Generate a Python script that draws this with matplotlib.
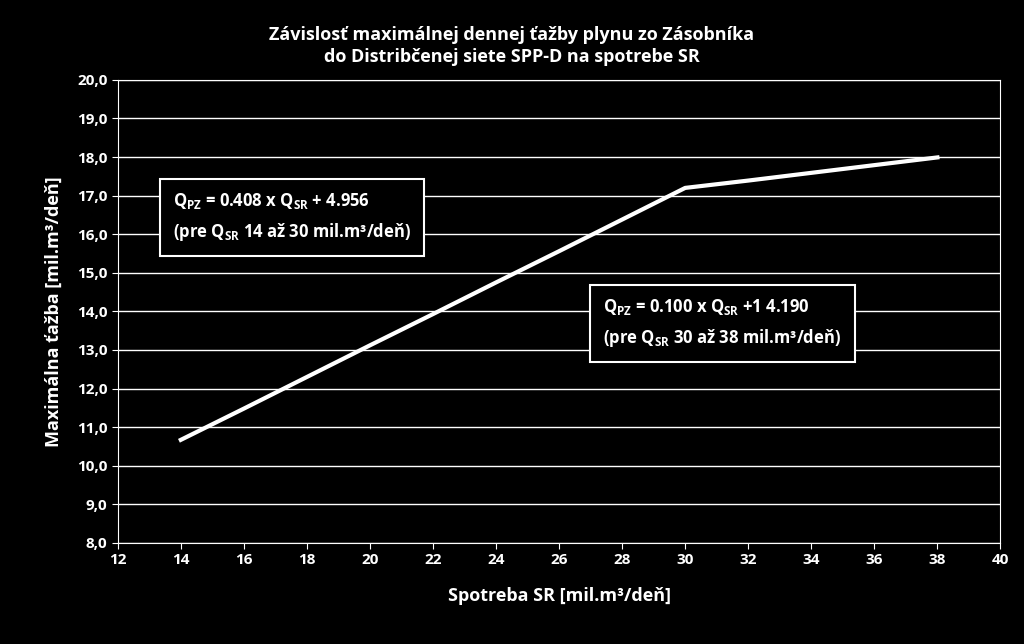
import matplotlib
matplotlib.use("Agg")
import matplotlib.pyplot as plt

x_vals = [14, 16, 18, 20, 22, 24, 26, 28, 30, 32, 34, 36, 38]
y_vals = [10.67, 11.48, 12.30, 13.12, 13.93, 14.75, 15.56, 16.38, 17.20, 17.39, 17.59, 17.79, 17.99]
x_ticks = list(range(12, 41, 2))
y_ticks = [8 + i for i in range(13)]

plt.rcParams["font.family"] = "Open Sans"
plt.rcParams["font.weight"] = "bold"
plt.rcParams["mathtext.fontset"] = "custom"
plt.rcParams["mathtext.rm"] = "Open Sans:bold"
fig = plt.figure(figsize=(10.24, 6.44), dpi=100, facecolor="black")
ax = fig.add_axes([0.115, 0.157, 0.862, 0.719], facecolor="black")
ax.plot(x_vals, y_vals, color="white", lw=3)
ax.set_xlim(12, 40)
ax.set_ylim(8, 20)
ax.set_xticks(x_ticks)
ax.set_yticks(y_ticks)
ax.set_yticklabels([f"{v:.1f}".replace(".", ",") for v in y_ticks])
ax.grid(axis="y", color="white", lw=1)
ax.tick_params(colors="white", labelsize=11, length=4)
for s in ax.spines.values():
    s.set_color("white")
ax.set_xlabel("Spotreba SR [mil.m³/deň]", color="white", fontsize=13, fontweight="bold", labelpad=14)
ax.set_ylabel("Maximálna ťažba [mil.m³/deň]", color="white", fontsize=13, fontweight="bold", labelpad=10)
fig.text(0.5, 0.96, "Závislosť maximálnej dennej ťažby plynu zo Zásobníka\ndo Distribčenej siete SPP-D na spotrebe SR",
         color="white", fontsize=13, fontweight="bold", ha="center", va="top", linespacing=1.3)
box = dict(boxstyle="square,pad=0.8", fc="black", ec="white", lw=1.5)
ax.text(13.75, 16.45, r"Q$_{\mathrm{PZ}}$ = 0.408 x Q$_{\mathrm{SR}}$ + 4.956" + "\n" + r"(pre Q$_{\mathrm{SR}}$ 14 až 30 mil.m³/deň)",
        color="white", fontsize=12, fontweight="bold", va="center", bbox=box, linespacing=1.6)
ax.text(27.4, 13.7, r"Q$_{\mathrm{PZ}}$ = 0.100 x Q$_{\mathrm{SR}}$ +1 4.190" + "\n" + r"(pre Q$_{\mathrm{SR}}$ 30 až 38 mil.m³/deň)",
        color="white", fontsize=12, fontweight="bold", va="center", bbox=box, linespacing=1.6)
fig.savefig("out.png", dpi=100, facecolor="black")
